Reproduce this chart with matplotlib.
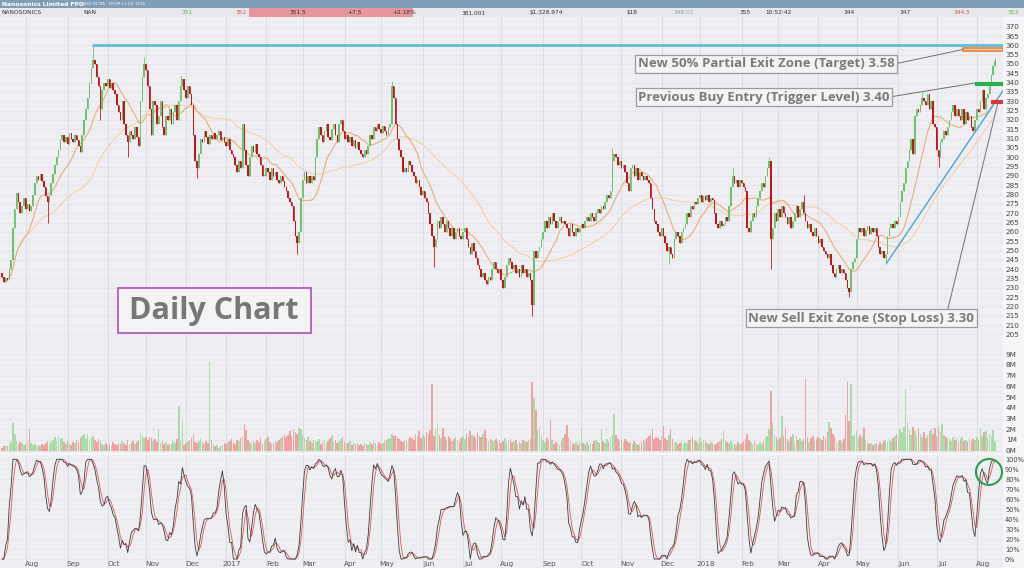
import numpy as np
import pandas as pd
import matplotlib
matplotlib.use('Agg')
import matplotlib.pyplot as plt
from matplotlib.patches import Rectangle, Ellipse

# --- Data (cents), daily closes, from 13 Jul 2016 ---
start_date = '2016-07-13'
first_open = 238
close = [
    236, 233, 235, 234, 240, 245, 262, 272, 281, 276,
    270, 274, 278, 272, 275, 271, 274, 280, 286, 290,
    288, 291, 287, 284, 279, 276, 280, 286, 291, 296,
    300, 304, 309, 312, 308, 311, 307, 313, 310, 308,
    312, 309, 306, 303, 312, 320, 326, 332, 340, 348,
    352, 350, 343, 338, 326, 336, 340, 338, 342, 337,
    340, 336, 334, 328, 324, 320, 330, 318, 312, 308,
    314, 312, 310, 316, 311, 306, 330, 343, 350, 347,
    338, 326, 312, 330, 328, 318, 322, 330, 316, 312,
    322, 320, 326, 318, 324, 328, 320, 330, 338, 342,
    336, 332, 338, 334, 328, 312, 298, 294, 302, 310,
    308, 314, 311, 307, 312, 310, 313, 310, 312, 314,
    309, 311, 308, 306, 310, 304, 302, 300, 296, 292,
    298, 294, 318, 304, 296, 290, 300, 306, 303, 307,
    302, 300, 296, 290, 290, 294, 292, 288, 294, 290,
    292, 288, 286, 290, 287, 284, 282, 278, 276, 274,
    266, 258, 254, 260, 278, 288, 292, 286, 290, 286,
    290, 288, 300, 310, 316, 312, 308, 314, 318, 311,
    309, 315, 318, 312, 308, 318, 320, 314, 310, 312,
    308, 311, 306, 309, 305, 308, 304, 302, 300, 304,
    302, 306, 312, 310, 316, 314, 318, 315, 313, 317,
    314, 312, 316, 318, 338, 332, 318, 310, 304, 300,
    292, 294, 292, 298, 296, 292, 290, 286, 288, 284,
    280, 282, 278, 276, 270, 264, 258, 252, 256, 266,
    262, 268, 264, 260, 266, 262, 258, 262, 256, 260,
    262, 258, 256, 260, 262, 256, 252, 248, 254, 250,
    246, 242, 240, 236, 238, 234, 232, 236, 234, 240,
    244, 240, 238, 240, 234, 230, 236, 242, 246, 244,
    240, 242, 238, 240, 236, 242, 238, 240, 236, 238,
    234, 221, 250, 246, 250, 252, 256, 260, 266, 262,
    268, 264, 270, 266, 262, 266, 268, 265, 266, 264,
    262, 258, 264, 260, 258, 262, 260, 262, 264, 262,
    266, 268, 266, 270, 268, 266, 270, 272, 270, 274,
    272, 276, 280, 278, 282, 298, 302, 300, 296, 298,
    294, 296, 292, 286, 282, 294, 296, 290, 294, 288,
    292, 290, 288, 290, 288, 286, 278, 272, 266, 264,
    260, 258, 262, 258, 254, 250, 252, 248, 246, 256,
    260, 258, 254, 260, 262, 264, 270, 268, 274, 272,
    276, 275, 278, 280, 276, 279, 277, 280, 276, 278,
    277, 270, 264, 262, 266, 263, 264, 268, 266, 274,
    284, 290, 286, 288, 284, 288, 286, 284, 282, 262,
    260, 266, 270, 268, 274, 278, 282, 286, 284, 290,
    294, 298, 256, 262, 270, 266, 272, 268, 274, 270,
    268, 264, 268, 262, 266, 270, 274, 268, 272, 276,
    270, 266, 262, 264, 260, 258, 262, 258, 254, 256,
    252, 250, 248, 246, 248, 242, 238, 236, 240, 242,
    238, 240, 238, 234, 230, 228, 240, 244, 246, 256,
    262, 260, 262, 258, 261, 263, 259, 262, 260, 262,
    258, 252, 248, 250, 246, 248, 258, 262, 264, 262,
    266, 264, 268, 276, 282, 286, 294, 298, 304, 310,
    302, 322, 326, 324, 328, 332, 330, 328, 334, 326,
    330, 318, 316, 304, 300, 308, 310, 314, 312, 316,
    320, 324, 328, 322, 326, 322, 320, 326, 318, 324,
    320, 322, 316, 314, 320, 326, 324, 330, 336, 326,
    332, 334, 338, 344, 349, 351.5,
]
# daily volume, millions
volume_m = [
    0.3, 0.4, 0.5, 0.4, 0.6, 0.8, 2.6, 1.6, 0.9, 0.6,
    0.8, 0.7, 0.5, 0.6, 0.9, 2.0, 0.7, 0.5, 0.6, 0.4,
    0.5, 0.4, 0.6, 0.5, 0.7, 0.9, 0.6, 0.8, 1.0, 1.3,
    0.9, 1.4, 1.1, 1.2, 0.8, 0.6, 0.9, 0.7, 0.5, 0.8,
    0.7, 1.0, 0.8, 1.2, 1.4, 1.6, 1.1, 1.6, 0.9, 1.2,
    1.4, 1.0, 0.8, 1.1, 0.9, 0.6, 0.5, 0.7, 0.5, 0.6,
    0.4, 0.8, 0.6, 0.5, 0.7, 0.6, 0.9, 0.7, 0.5, 1.0,
    0.6, 0.7, 0.9, 0.6, 0.8, 1.0, 1.6, 1.4, 1.2, 1.3,
    1.0, 1.3, 1.2, 0.9, 1.1, 0.8, 2.0, 0.7, 0.9, 0.6,
    0.8, 0.5, 0.7, 0.6, 0.9, 0.7, 1.1, 4.2, 0.9, 2.8,
    0.5, 0.7, 0.9, 1.0, 1.2, 1.6, 0.8, 0.7, 0.9, 1.2,
    0.8, 0.6, 0.9, 0.7, 8.3, 1.0, 0.6, 0.4, 0.5, 0.3,
    0.4, 0.5, 0.7, 0.6, 0.8, 0.9, 1.1, 0.8, 0.6, 1.0,
    0.9, 1.2, 1.4, 2.5, 1.9, 1.0, 0.8, 0.6, 0.9, 0.7,
    1.0, 0.8, 1.2, 0.6, 0.9, 1.1, 1.3, 0.8, 0.6, 0.7,
    0.9, 0.8, 1.0, 1.2, 1.4, 1.6, 1.3, 1.5, 1.8, 1.4,
    1.9, 1.7, 1.6, 2.1, 2.0, 1.5, 1.2, 1.0, 1.3, 0.9,
    0.7, 1.0, 0.8, 0.9, 1.1, 0.6, 0.8, 1.0, 0.7, 0.9,
    1.2, 1.5, 0.8, 1.0, 0.7, 0.9, 1.1, 1.3, 0.8, 0.6,
    0.7, 0.9, 0.5, 0.8, 0.6, 0.7, 0.5, 0.6, 0.4, 0.7,
    0.6, 0.5, 0.8, 0.6, 0.9, 0.7, 0.5, 0.8, 0.6, 0.7,
    0.9, 1.0, 1.1, 1.2, 1.6, 1.4, 1.5, 1.3, 1.1, 0.9,
    0.8, 1.0, 0.9, 1.1, 1.3, 1.2, 1.0, 1.6, 1.4, 1.8,
    1.2, 1.5, 1.3, 1.7, 1.6, 1.9, 6.2, 1.4, 2.0, 2.5,
    1.5, 1.2, 2.1, 1.3, 1.0, 1.4, 1.2, 0.9, 1.1, 1.3,
    1.0, 0.8, 1.2, 1.4, 1.1, 1.6, 1.3, 1.8, 1.5, 1.4,
    1.2, 1.7, 1.4, 1.3, 1.6, 1.9, 1.2, 0.9, 1.1, 1.0,
    0.9, 1.1, 0.8, 1.0, 0.7, 0.9, 1.2, 0.8, 1.0, 1.1,
    0.8, 0.9, 1.0, 0.6, 0.8, 0.7, 1.0, 0.9, 0.8, 1.0,
    1.1, 6.4, 4.9, 3.8, 1.9, 2.2, 1.4, 1.0, 0.8, 1.2,
    0.9, 2.9, 1.0, 0.6, 0.8, 0.7, 0.5, 0.9, 1.2, 1.6,
    2.4, 1.2, 0.9, 0.7, 0.6, 0.8, 0.5, 0.9, 2.0, 0.7,
    0.6, 0.8, 0.5, 0.7, 0.6, 0.9, 1.0, 0.8, 0.7, 2.0,
    0.9, 0.7, 1.1, 0.8, 1.3, 1.5, 3.4, 1.5, 1.1, 0.9,
    1.0, 0.8, 1.1, 0.9, 0.7, 0.8, 0.6, 0.9, 0.7, 0.5,
    0.6, 0.8, 1.0, 0.9, 1.2, 1.4, 1.6, 2.0, 1.1, 1.3,
    1.2, 1.0, 1.4, 2.3, 1.2, 1.0, 1.5, 2.0, 1.1, 0.7,
    0.8, 0.6, 0.7, 0.9, 0.6, 0.8, 0.7, 1.0, 1.1, 1.3,
    1.0, 0.9, 0.7, 1.2, 0.8, 1.0, 0.9, 0.7, 0.6, 0.8,
    0.7, 0.5, 0.6, 0.8, 0.9, 1.1, 1.8, 1.0, 0.8, 0.7,
    0.9, 0.6, 0.7, 0.5, 0.8, 0.6, 0.7, 0.9, 1.1, 1.6,
    1.0, 0.8, 0.6, 0.9, 0.7, 0.5, 0.8, 0.6, 0.9, 1.2,
    1.4, 2.0, 5.6, 2.7, 1.5, 1.3, 1.0, 1.2, 3.2, 1.4,
    2.1, 1.1, 0.9, 1.3, 1.6, 0.8, 1.4, 1.0, 1.2, 0.9,
    1.1, 6.7, 1.3, 0.8, 1.2, 1.4, 0.9, 1.1, 1.3, 1.2,
    1.0, 1.4, 1.2, 1.7, 2.7, 2.1, 1.6, 1.3, 0.7, 0.9,
    1.0, 0.8, 1.1, 3.3, 6.4, 2.8, 6.2, 1.4, 1.6, 1.8,
    1.2, 1.5, 1.3, 2.1, 1.0, 0.8, 0.6, 0.7, 0.5, 0.6,
    0.7, 0.5, 0.8, 0.6, 0.9, 1.0, 0.8, 1.1, 0.9, 1.2,
    1.4, 1.6, 1.3, 2.0, 1.7, 2.2, 5.7, 2.7, 1.9, 1.5,
    2.2, 1.8, 1.4, 2.1, 1.6, 1.3, 1.7, 1.2, 1.5, 1.8,
    2.0, 1.6, 2.1, 1.4, 2.2, 1.7, 2.5, 1.5, 1.3, 1.1,
    1.2, 0.9, 1.3, 1.0, 1.2, 0.8, 1.1, 1.3, 0.9, 1.0,
    0.8, 1.2, 0.9, 1.1, 1.0, 1.3, 1.0, 2.1, 1.4, 1.7,
    1.8, 1.2, 1.6, 1.4, 1.9, 0.9,
]
# notable wick extremes (day index -> cents)
high_wicks = {50: 360, 78: 354, 98: 344, 214: 341, 335: 305, 401: 294,
              421: 300, 440: 280, 505: 335, 545: 353}
low_wicks = {6: 252, 25: 265, 54: 320, 69: 300, 107: 289, 162: 248, 237: 241,
             291: 215, 366: 243, 422: 240, 465: 225, 485: 243, 514: 295}

# trade plan levels
resist_level = 360
resist_start = 49.5
target_zone = (357.0, 358.7)
trigger_level = 339.5
stop_level = 329.8
trend_x = [485.5, 551.5]
trend_y = [243.2, 338.7]

header_cells = [
    ('NANOSONICS', 1, '#333333'), ('NAN', 83, '#333333'), ('351', 181, '#5cb85c'),
    ('352', 235, '#d9534f'), ('351.5', 289, '#333333'), ('+7.5', 347, '#333333'),
    ('+2.18%', 392, '#333333'), ('381,001', 462, '#333333'), ('$1,328,974', 530, '#333333'),
    ('$18', 627, '#333333'), ('348.01', 673, '#8fa3b0'), ('355', 740, '#333333'),
    ('10:52:42', 765, '#333333'), ('344', 843, '#333333'), ('347', 899, '#333333'),
    ('344.5', 954, '#d9534f'), ('353', 1008, '#5cb85c'),
]

# --- derived series ---
n = len(close)
idx = np.arange(n)
c = np.array(close, dtype=float)
o = np.r_[first_open, c[:-1]]
hi = np.maximum(o, c)
lo = np.minimum(o, c)
for k, v in high_wicks.items():
    hi[k] = v
for k, v in low_wicks.items():
    lo[k] = v
up = c >= o

cs = pd.Series(c)
ma_fast = cs.rolling(15, min_periods=1).mean()
ma_slow = cs.rolling(50, min_periods=1).mean()
hh = pd.Series(hi).rolling(14, min_periods=1).max()
ll = pd.Series(lo).rolling(14, min_periods=1).min()
fast_k = 100 * (cs - ll) / (hh - ll).replace(0, np.nan)
slow_k = fast_k.fillna(50).rolling(3, min_periods=1).mean()
slow_d = slow_k.rolling(3, min_periods=1).mean()

dates = pd.bdate_range(start_date, periods=n)
month_starts = [i for i in range(1, n) if dates[i].month != dates[i - 1].month]
month_labels = [str(dates[i].year) if dates[i].month == 1 else dates[i].strftime('%b')
                for i in month_starts]

# --- figure ---
W, H = 1024, 568
BG = '#efeff3'
fig = plt.figure(figsize=(W / 100, H / 100), dpi=100)
fig.patch.set_facecolor('#f6f6f8')


def rect(top, bottom, left=0, right=1003):
    return [left / W, 1 - bottom / H, (right - left) / W, (bottom - top) / H]


ax_p = fig.add_axes(rect(17, 342))
ax_v = fig.add_axes(rect(342, 453))
ax_s = fig.add_axes(rect(455, 568))

XL = (-1.1, 549.4)
for ax in (ax_p, ax_v, ax_s):
    ax.set_facecolor(BG)
    ax.set_xlim(*XL)
    for s in ax.spines.values():
        s.set_visible(False)
    ax.yaxis.tick_right()
    ax.tick_params(axis='y', length=0, pad=2, labelsize=5.2, labelcolor='#444444')
    ax.set_xticks([])
    for ms in month_starts:
        ax.axvline(ms, color='#d8d8e0', lw=0.6, zorder=0)

# price panel
ax_p.set_ylim(200.94, 375.2)
pt = np.arange(205, 371, 5)
ax_p.set_yticks(pt)
for p in pt:
    ax_p.axhline(p, color='#e1e1e8', lw=0.5, zorder=0)

col = np.where(up, '#6cc16c', '#c0161e')
ax_p.vlines(idx, lo, hi, colors=col, lw=0.6, zorder=2)
ax_p.bar(idx, np.maximum(np.abs(c - o), 0.5), bottom=np.minimum(o, c), width=0.8,
         color=col, lw=0, zorder=3)
ax_p.plot(idx, ma_slow, color='#f2d2ae', lw=0.8, zorder=1)
ax_p.plot(idx, ma_fast, color='#e8ae78', lw=0.8, zorder=1)

ax_p.hlines(resist_level, resist_start, XL[1], color='#5cc0dd', lw=2, zorder=4)
ax_p.plot(trend_x, trend_y, color='#4aa6d6', lw=1, zorder=4)
ax_p.add_patch(Rectangle((527.5, target_zone[0]), XL[1] - 527.5, target_zone[1] - target_zone[0],
                         facecolor='#fbd3ae', edgecolor='#f08030', lw=1.2, zorder=5))
ax_p.add_patch(Rectangle((534, trigger_level - 0.85), XL[1] - 534, 1.7,
                         facecolor='#2fae4e', edgecolor='#2fae4e', lw=0.8, zorder=5))
ax_p.add_patch(Rectangle((542.6, stop_level - 0.85), XL[1] - 542.6, 1.7,
                         facecolor='#e0303a', edgecolor='#e0303a', lw=0.8, zorder=5))

note_font = dict(family='Open Sans', weight='bold', color='#7b7b7b', fontsize=9.5)
box = dict(boxstyle='square,pad=0.17', facecolor='#f4f4f6', edgecolor='#9c9c9c', lw=0.9)
line = dict(arrowstyle='-', color='#707070', lw=0.7, shrinkA=0, shrinkB=0)
ax_p.annotate('New 50% Partial Exit Zone (Target) 3.58', xy=(527.5, 357.8), xytext=(419.3, 350),
              ha='center', va='center', bbox=box, arrowprops=dict(line, relpos=(1, 0.5)),
              zorder=6, **note_font)
ax_p.annotate('Previous Buy Entry (Trigger Level) 3.40', xy=(534, 339.8), xytext=(418, 332.3),
              ha='center', va='center', bbox=box, arrowprops=dict(line, relpos=(1, 0.5)),
              zorder=6, **note_font)
ax_p.annotate('New Sell Exit Zone (Stop Loss) 3.30', xy=(546.7, 329.6), xytext=(471.7, 213.8),
              ha='center', va='center', bbox=box, arrowprops=dict(line, relpos=(0.88, 1)),
              zorder=6, **note_font)
ax_p.add_patch(Rectangle((63.8, 205.6), 169.4 - 63.8, 229.7 - 205.6, facecolor='#f4f4f6',
                         edgecolor='#b05cc0', lw=1.3, zorder=6))
ax_p.text(116.0, 213.1, 'Daily Chart', ha='center', va='baseline', family='Open Sans',
          weight='bold', color='#777777', fontsize=22, zorder=7)

# volume panel
ax_v.set_ylim(-0.21, 10.12)
ax_v.set_yticks(range(10))
ax_v.set_yticklabels([f'{k}M' for k in range(10)])
for k in range(10):
    ax_v.axhline(k, color='#e4e4ea', lw=0.5, zorder=0)
vcol = np.where(up, '#aadcaa', '#eea2a2')
ax_v.bar(idx, volume_m, width=0.85, color=vcol, lw=0, zorder=2)

# stochastic panel
ax_s.set_ylim(-9.0, 104.3)
st = np.arange(0, 101, 10)
ax_s.set_yticks(st)
ax_s.set_yticklabels([f'{k}%' for k in st])
ax_s.tick_params(axis='y', labelsize=4.8, pad=1.5)
for k in st:
    ax_s.axhline(k, color='#e4e4ea', lw=0.5, zorder=0)
ax_s.plot(idx, slow_d, color='#d45a5a', lw=0.6, zorder=2)
ax_s.plot(idx, slow_k, color='#3c3c3c', lw=0.6, zorder=3)
ax_s.add_patch(Ellipse((541.7, 87.3), 14.3, 26, fill=False, edgecolor='#2e9e48', lw=1.5, zorder=5))
for ms, lab in zip(month_starts, month_labels):
    ax_s.text(ms + 3.3, -4.8, lab, ha='center', va='center', fontsize=5.2, color='#555555')

# header
fig.add_artist(Rectangle((0, 1 - 8.5 / H), 1, 8.5 / H, transform=fig.transFigure,
                         facecolor='#7e9eb7', lw=0))
fig.add_artist(Rectangle((0, 1 - 17 / H), 1, 8.5 / H, transform=fig.transFigure,
                         facecolor='#e6e8ec', lw=0))
fig.add_artist(Rectangle((249 / W, 1 - 17 / H), 164 / W, 8.5 / H, transform=fig.transFigure,
                         facecolor='#e8959f', lw=0))
fig.text(2 / W, 1 - 4.3 / H, 'Nanosonics Limited FPO', color='white', fontsize=4.3,
         weight='bold', va='center')
fig.text(81 / W, 1 - 4.5 / H, 'DAILY INTRA . FROM 13 JUL 2016', color='#eef2f6', fontsize=2.9,
         va='center')
for txt, xp, cl in header_cells:
    fig.text(xp / W, 1 - 12.8 / H, txt, color=cl, fontsize=4.2, va='center')

fig.savefig('out.png', dpi=100, facecolor=fig.get_facecolor())
